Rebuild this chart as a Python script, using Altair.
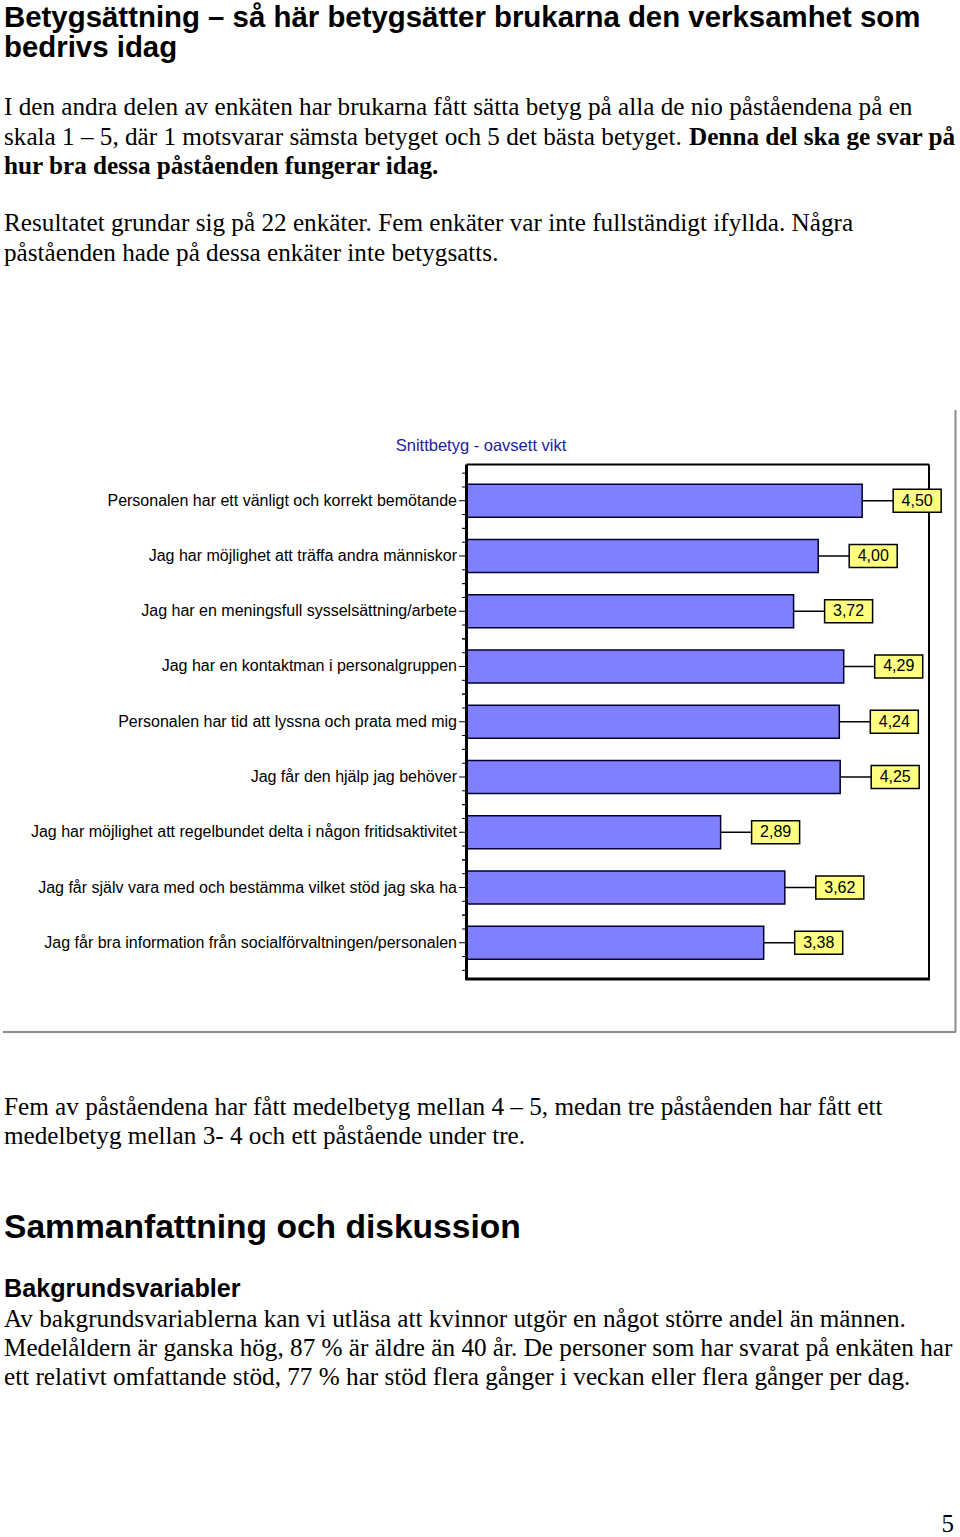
import altair as alt
import pandas as pd

# ---------------- data ----------------
categories = [
    "Personalen har ett vänligt och korrekt bemötande",
    "Jag har möjlighet att träffa andra människor",
    "Jag har en meningsfull sysselsättning/arbete",
    "Jag har en kontaktman i personalgruppen",
    "Personalen har tid att lyssna och prata med mig",
    "Jag får den hjälp jag behöver",
    "Jag har möjlighet att regelbundet delta i någon fritidsaktivitet",
    "Jag får själv vara med och bestämma vilket stöd jag ska ha",
    "Jag får bra information från socialförvaltningen/personalen",
]
values = [4.50, 4.00, 3.72, 4.29, 4.24, 4.25, 2.89, 3.62, 3.38]
value_labels = ["4,50", "4,00", "3,72", "4,29", "4,24", "4,25", "2,89", "3,62", "3,38"]
chart_title = "Snittbetyg - oavsett vikt"

df = pd.DataFrame({"cat": categories, "v": values, "lab": value_labels})

# page text: (text, style, x, y-baseline, align)
page_text = [
    ("Betygsättning – så här betygsätter brukarna den verksamhet som", "h0", 4, 27, "left"),
    ("bedrivs idag", "h0", 4, 57, "left"),
    ("I den andra delen av enkäten har brukarna fått sätta betyg på alla de nio påståendena på en", "body", 4, 115, "left"),
    ("skala 1 – 5, där 1 motsvarar sämsta betyget och 5 det bästa betyget.", "body", 4, 145, "left"),
    ("Denna del ska ge svar på", "bodyb", 689, 145, "left"),
    ("hur bra dessa påståenden fungerar idag.", "bodyb", 4, 174, "left"),
    ("Resultatet grundar sig på 22 enkäter. Fem enkäter var inte fullständigt ifyllda. Några", "body", 4, 231, "left"),
    ("påståenden hade på dessa enkäter inte betygsatts.", "body", 4, 261, "left"),
    ("Fem av påståendena har fått medelbetyg mellan 4 – 5, medan tre påståenden har fått ett", "body", 4, 1115, "left"),
    ("medelbetyg mellan 3- 4 och ett påstående under tre.", "body", 4, 1144, "left"),
    ("Sammanfattning och diskussion", "h1", 4, 1238, "left"),
    ("Bakgrundsvariabler", "h2", 4, 1297, "left"),
    ("Av bakgrundsvariablerna kan vi utläsa att kvinnor utgör en något större andel än männen.", "body", 4, 1327, "left"),
    ("Medelåldern är ganska hög, 87 % är äldre än 40 år. De personer som har svarat på enkäten har", "body", 4, 1356, "left"),
    ("ett relativt omfattande stöd, 77 % har stöd flera gånger i veckan eller flera gånger per dag.", "body", 4, 1385, "left"),
    ("5", "page", 954, 1532, "right"),
]

styles = {
    "h0": dict(font="Liberation Sans", fontSize=29.4, fontWeight="bold"),
    "h1": dict(font="Liberation Sans", fontSize=33.6, fontWeight="bold"),
    "h2": dict(font="Liberation Sans", fontSize=25.2, fontWeight="bold"),
    "body": dict(font="Liberation Serif", fontSize=25.2, fontWeight="normal"),
    "bodyb": dict(font="Liberation Serif", fontSize=25.2, fontWeight="bold"),
    "page": dict(font="Liberation Serif", fontSize=25, fontWeight="normal"),
}

one = pd.DataFrame({"a": [0]})

# ---------------- layout ----------------
PX0, PX1 = 466.5, 929      # plot area x
PY0, PY1 = 464.5, 979      # plot area y
XMAX = 5.26

xs = alt.Scale(domain=[0, XMAX], range=[PX0, PX1])
ys = alt.Scale(domain=categories, range=[PY0, PY1], paddingInner=0.4, paddingOuter=0.356)
X = alt.X("v:Q", scale=xs, axis=None)
X2 = alt.X2("v:Q")
Y = alt.Y("cat:N", scale=ys, sort=categories, axis=None)

base = alt.Chart(df)

layers = []

# page text
for txt, st, x, y, al in page_text:
    layers.append(
        alt.Chart(one).mark_text(text=txt, align=al, baseline="alphabetic", color="black", **styles[st])
        .encode(x=alt.value(x), y=alt.value(y))
    )

# gray outer frame of chart object
layers.append(alt.Chart(one).mark_rule(color="#8c8c8c", strokeWidth=2)
              .encode(x=alt.value(955.5), y=alt.value(410), y2=alt.value(1032)))
layers.append(alt.Chart(one).mark_rule(color="#8c8c8c", strokeWidth=2)
              .encode(x=alt.value(3), x2=alt.value(956), y=alt.value(1032)))

# chart title
layers.append(alt.Chart(one).mark_text(text=chart_title, font="Liberation Sans", fontSize=16.5,
                                       color="#1c1ca0", align="center", baseline="alphabetic")
              .encode(x=alt.value(481), y=alt.value(451)))

# bars
layers.append(base.mark_bar(color="#8080ff", stroke="#000033", strokeWidth=1.5)
              .encode(x=X, y=Y))

# plot frame
layers.append(alt.Chart(one).mark_rule(color="black", strokeWidth=2)
              .encode(x=alt.value(PX0), x2=alt.value(PX1), y=alt.value(PY0)))
layers.append(alt.Chart(one).mark_rule(color="black", strokeWidth=2)
              .encode(x=alt.value(PX1), y=alt.value(PY0), y2=alt.value(PY1)))
layers.append(alt.Chart(one).mark_rule(color="black", strokeWidth=3)
              .encode(x=alt.value(PX0), y=alt.value(PY0), y2=alt.value(PY1 + 1)))
layers.append(alt.Chart(one).mark_rule(color="black", strokeWidth=3)
              .encode(x=alt.value(PX0 - 1), x2=alt.value(PX1 + 1), y=alt.value(PY1)))

# leader lines
layers.append(base.mark_rule(color="black", strokeWidth=1.5, x2Offset=31)
              .encode(x=X, x2=X2, y=Y))
# label boxes
layers.append(base.mark_bar(color="#ffff80", stroke="black", strokeWidth=1.5,
                            xOffset=31, x2Offset=79, height=23)
              .encode(x=X, x2=X2, y=Y))
layers.append(base.mark_text(font="Liberation Sans", fontSize=16, color="black",
                             xOffset=55, align="center", baseline="middle")
              .encode(x=X, y=Y, text="lab:N"))

# category labels
layers.append(base.mark_text(font="Liberation Sans", fontSize=16, color="black",
                             align="right", baseline="middle")
              .encode(x=alt.value(457), y=Y, text="cat:N"))

# axis ticks
layers.append(base.mark_rule(color="black", strokeWidth=1)
              .encode(x=alt.value(459), x2=alt.value(466), y=Y))
for off in [-27.6, -13.8, 13.8, 27.6]:
    layers.append(base.mark_rule(color="black", strokeWidth=1, yOffset=off)
                  .encode(x=alt.value(462), x2=alt.value(466), y=Y))

chart = alt.layer(*layers).properties(
    width=960, height=1537,
    autosize=alt.AutoSizeParams(type="none"),
    padding=0,
    background="white",
).configure_view(stroke=None)

chart.save("out.html", embed_options={"renderer": "svg", "actions": False})
